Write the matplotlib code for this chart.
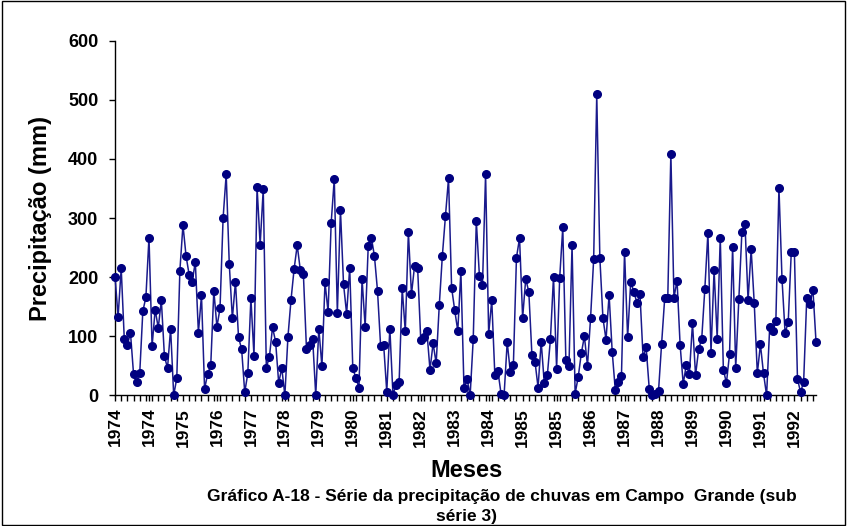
import matplotlib
matplotlib.use("Agg")
import matplotlib.pyplot as plt
import numpy as np

plt.rcParams['font.family'] = ['Liberation Sans', 'DejaVu Sans']

# monthly rainfall (mm), Jan 1974 - Dec 1992
precip = [
    201, 133, 215, 95, 85, 106, 36, 23, 37, 142, 166, 267,
    83, 145, 114, 161, 66, 46, 113, 0, 29, 211, 288, 236,
    204, 192, 226, 106, 169, 11, 36, 51, 177, 116, 147, 300,
    374, 222, 130, 192, 98, 78, 5, 37, 164, 67, 352, 255,
    349, 47, 65, 115, 91, 21, 46, 0, 99, 162, 214, 254,
    212, 205, 78, 85, 96, 0, 113, 49, 191, 141, 292, 366,
    139, 314, 188, 138, 216, 46, 29, 13, 197, 116, 253, 267,
    236, 177, 84, 85, 6, 113, 1, 18, 22, 181, 108, 276,
    171, 219, 215, 94, 99, 108, 43, 88, 54, 152, 236, 303,
    367, 182, 144, 109, 210, 13, 28, 0, 95, 295, 202, 187,
    374, 104, 161, 34, 41, 3, 1, 90, 40, 51, 233, 266,
    131, 197, 175, 69, 57, 13, 91, 21, 34, 95, 201, 45,
    199, 284, 59, 50, 254, 3, 31, 71, 100, 50, 131, 230,
    509, 233, 131, 94, 170, 74, 9, 23, 33, 243, 98, 192,
    175, 157, 171, 64, 81, 11, 0, 2, 7, 87, 164, 165,
    409, 165, 194, 85, 19, 52, 36, 122, 34, 78, 96, 180,
    275, 72, 212, 96, 267, 43, 21, 70, 251, 46, 163, 276,
    290, 161, 247, 156, 37, 86, 37, 0, 115, 108, 125, 351,
    196, 105, 124, 243, 242, 28, 5, 23, 164, 154, 179, 91,
]

# category labels shown every 11 months
year_labels = ["1974", "1974", "1975", "1976", "1977", "1978", "1979",
               "1980", "1981", "1982", "1983", "1984", "1985", "1985",
               "1986", "1987", "1988", "1989", "1990", "1991", "1992"]
label_step = 11

fig = plt.figure(figsize=(8.47, 5.26), dpi=100)
ax = fig.add_axes([0.1358, 0.2485, 0.9634 - 0.1358, 0.9226 - 0.2485])

x = np.arange(len(precip))
ax.plot(x, precip, color="#1a1a8c", linewidth=1.1, marker="o", markersize=5.5,
        markerfacecolor="#000080", markeredgecolor="#000080", clip_on=False, zorder=3)

ax.set_xlim(0, len(precip) - 1)
ax.set_ylim(0, 600)
ax.set_yticks(range(0, 601, 100))
ax.tick_params(axis="y", labelsize=13, direction="out", length=4, width=1, pad=8)
for lab in ax.get_yticklabels():
    lab.set_fontweight("bold")

ax.set_xticks(np.arange(len(year_labels)) * label_step)
ax.set_xticklabels(year_labels, rotation=90, fontsize=12.5, fontweight="bold")
ax.set_xticks(np.arange(0, len(precip), 2), minor=True)
ax.tick_params(axis="x", which="both", direction="out", length=4, width=1, pad=5)

for side in ["top", "right"]:
    ax.spines[side].set_visible(False)
for side in ["left", "bottom"]:
    ax.spines[side].set_linewidth(1)

ax.set_ylabel("Precipitação (mm)", fontsize=17, fontweight="bold")
ax.yaxis.set_label_coords(-0.09, 0.5)
fig.text(0.551, 0.106, "Meses", ha="center", va="center", fontsize=17, fontweight="bold")
fig.text(0.592, 0.057, "Gráfico A-18 - Série da precipitação de chuvas em Campo  Grande (sub",
         ha="center", va="center", fontsize=12.5, fontweight="bold")
fig.text(0.551, 0.019, "série 3)", ha="center", va="center", fontsize=12.5, fontweight="bold")

# outer chart border
fig.patches.append(plt.Rectangle((0.002, 0.002), 0.996, 0.996, transform=fig.transFigure,
                                 fill=False, edgecolor="black", linewidth=1))

fig.savefig("out.png", dpi=100)
